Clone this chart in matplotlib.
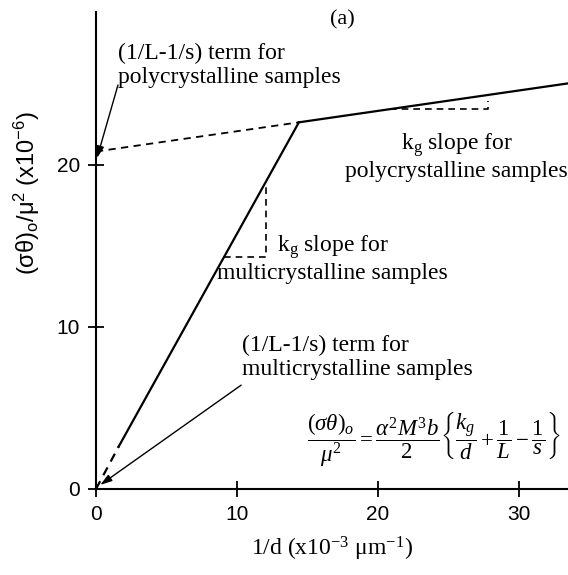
import numpy as np
import matplotlib
matplotlib.use('Agg')
import matplotlib.pyplot as plt

plt.rcParams['font.family'] = ['Liberation Serif', 'DejaVu Serif']
plt.rcParams['mathtext.fontset'] = 'custom'
plt.rcParams['mathtext.rm'] = 'Liberation Serif'
plt.rcParams['mathtext.it'] = 'Liberation Serif:italic'
plt.rcParams['mathtext.bf'] = 'Liberation Serif:bold'
plt.rcParams['mathtext.sf'] = 'Liberation Sans'

# multicrystalline line: dashed extrapolation to origin, then solid up to the knee
multi_dash_x = [0.0, 1.6]
multi_dash_y = [0.0, 2.6]
multi_x = [1.6, 14.4]
multi_y = [2.6, 22.6]

# polycrystalline line: dashed extrapolation to the y axis, then solid
poly_dash_x = [0.0, 14.4]
poly_dash_y = [20.8, 22.6]
poly_x = [14.4, 33.5]
poly_y = [22.6, 25.0]

# slope triangles
tri_multi_x = [9.1, 12.1, 12.1]
tri_multi_y = [14.3, 14.3, 18.9]
tri_poly_x = [20.9, 27.8, 27.8]
tri_poly_y = [23.4, 23.4, 23.9]

xticks = [0, 10, 20, 30]
yticks = [0, 10, 20]

fig = plt.figure(figsize=(5.68, 5.75), dpi=100)
ax = fig.add_axes([96/568, 86/575, 1 - 96/568, (489 - 12)/575])

ax.plot(multi_dash_x, multi_dash_y, 'k--', lw=1.6, dashes=(4, 3))
ax.plot(multi_x, multi_y, 'k-', lw=1.6)
ax.plot(poly_dash_x, poly_dash_y, 'k--', lw=1.3, dashes=(4, 3))
ax.plot(poly_x, poly_y, 'k-', lw=1.6)
ax.plot(tri_multi_x, tri_multi_y, 'k--', lw=1.2, dashes=(4, 3))
ax.plot(tri_poly_x, tri_poly_y, 'k--', lw=1.2, dashes=(4, 3))

ax.set_xlim(0, 33.5)
ax.set_ylim(0, 29.4)
ax.set_xticks(xticks)
ax.set_yticks(yticks)
for s in ['top', 'right']:
    ax.spines[s].set_visible(False)
for s in ['left', 'bottom']:
    ax.spines[s].set_linewidth(1.5)
ax.tick_params(direction='inout', length=11, width=1.3, labelsize=15, pad=6)
for lab in ax.get_xticklabels() + ax.get_yticklabels():
    lab.set_family('Liberation Sans')

ax.set_xlabel('1/d (x10$^{-3}$ μm$^{-1}$)', fontsize=17, labelpad=8)
ax.set_ylabel(r'$\mathsf{(\sigma\theta)_o/\mu^2\ (x10^{-6})}$', fontsize=17)
ax.yaxis.set_label_coords(-0.115, 0.62)

fs = 17
ls = 1.2
ax.text(17.5, 28.9, '(a)', fontsize=16, ha='center', va='center')
ax.text(1.55, 26.1, '(1/L-1/s) term for\npolycrystalline samples', fontsize=fs,
        ha='left', va='center', linespacing=ls)
ax.text(25.6, 20.5, r'k$_\mathrm{g}$ slope for' + '\npolycrystalline samples', fontsize=fs,
        ha='center', va='center', linespacing=1.1)
ax.text(16.8, 14.2, r'k$_\mathrm{g}$ slope for' + '\nmulticrystalline samples', fontsize=fs,
        ha='center', va='center', linespacing=1.1)
ax.text(10.35, 8.1, '(1/L-1/s) term for\nmulticrystalline samples', fontsize=fs,
        ha='left', va='center', linespacing=ls)

ax.text(24.0, 3.0,
        r'$\dfrac{(\sigma\theta)_o}{\mu^2} = \dfrac{\alpha^2 M^3 b}{2}\left\{\dfrac{k_g}{d} + \dfrac{1}{L} - \dfrac{1}{s}\right\}$',
        fontsize=16.5, ha='center', va='center')

arrow = dict(arrowstyle='-|>,head_length=0.7,head_width=0.22', color='k', lw=1.0,
             shrinkA=0, shrinkB=0)
ax.annotate('', xy=(0.07, 20.4), xytext=(1.56, 24.9), arrowprops=arrow)
ax.annotate('', xy=(0.3, 0.25), xytext=(10.3, 6.4), arrowprops=arrow)

plt.savefig('out.png', dpi=100)
